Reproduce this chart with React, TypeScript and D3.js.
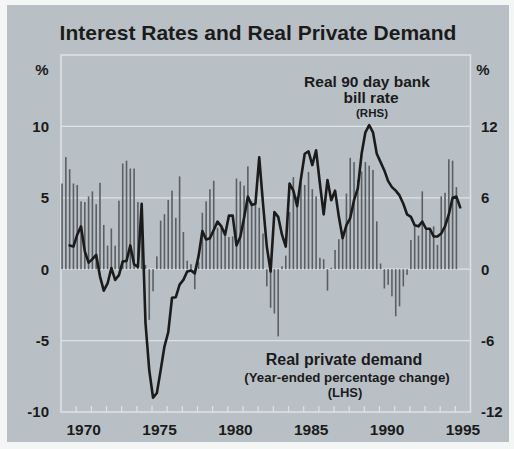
import * as d3 from "d3";

// Real private demand, year-ended % change (LHS), quarterly from 1969 Q1
const demandStart = 1969;
const demand = [
  6.0, 7.85, 7.0, 6.0, 5.9, 4.75, 4.7, 5.1, 5.45, 4.55,
  6.05, 3.1, 1.65, 2.85, 1.65, 4.8, 7.4, 7.6, 7.05, 7.05,
  4.7, 4.6, 0.3, -3.55, -1.55, 0.9, 3.4, 3.85, 4.85, 5.5,
  3.6, 6.5, 2.6, 0.6, 0.35, -1.4, 0.5, 3.95, 4.75, 5.6,
  6.2, 2.9, 2.9, 2.5, 2.25, 2.3, 6.35, 6.15, 5.85, 7.2,
  4.75, 4.5, 4.3, 2.5, -1.2, -2.7, -3.1, -4.7, 0.2, 0.95,
  4.0, 6.45, 5.1, 6.05, 5.9, 6.8, 5.6, 5.1, 0.8, 0.7,
  -1.5, 0.1, 1.35, 2.1, 2.65, 5.3, 7.8, 7.5, 6.25, 6.85,
  7.5, 7.25, 6.95, 3.35, 0.4, -1.35, -1.1, -1.9, -3.3, -2.6,
  -1.2, -0.4, 2.05, 3.0, 2.35, 5.45, 2.75, 2.85, 3.0, 1.7,
  5.1, 5.35, 7.7, 7.6, 5.75,
];

// Real 90 day bank bill rate (RHS), quarterly from 1969 Q3
const rateStart = 1969.5;
const rate = [
  2.0, 1.9, 2.9, 3.6, 1.5, 0.55, 0.85, 1.2, -0.6, -1.8,
  -1.2, 0.1, -0.9, -0.5, 0.65, 0.7, 2.0, 0.4, 0.2, 5.5,
  -4.5, -8.5, -10.8, -10.4, -8.5, -6.5, -5.3, -2.4, -2.35, -1.3,
  -0.9, -0.2, -0.1, -0.35, 1.1, 3.2, 2.5, 2.6, 3.3, 4.0,
  3.6, 2.9, 4.5, 4.5, 2.0, 2.7, 4.3, 6.1, 5.4, 5.5,
  9.4, 5.5, 1.9, -0.2, 4.8, 4.4, 2.9, 1.9, 7.2, 6.6,
  5.3, 7.6, 9.7, 9.9, 8.75, 10.0, 7.2, 4.6, 7.5, 5.8,
  6.6, 4.4, 2.6, 3.7, 4.3, 5.8, 6.8, 9.7, 11.5, 12.1,
  11.5, 9.7, 9.0, 8.3, 7.4, 6.9, 6.6, 6.2, 5.5, 4.6,
  4.4, 3.7, 3.6, 4.0, 3.4, 3.4, 2.75, 2.75, 3.0, 3.6,
  4.6, 6.0, 6.1, 5.2,
];

const yearLabels = [1970, 1975, 1980, 1985, 1990, 1995];
const yearTicks = d3.range(1970, 1996);
const lhsTicks = [-10, -5, 0, 5, 10];
const rhsTicks = [-12, -6, 0, 6, 12];
const gridValues = [-5, 0, 5, 10];

const W = 514;
const H = 449;
const plot = { left: 61, right: 470.5, top: 55, bottom: 412 };
const font = "'Liberation Sans', Arial, Helvetica, sans-serif";

export default function App() {
  const x = d3.scaleLinear().domain([1969, 1996]).range([plot.left, plot.right]);
  const yL = d3.scaleLinear().domain([-10, 15]).range([plot.bottom, plot.top]);
  const yR = d3.scaleLinear().domain([-12, 18]).range([plot.bottom, plot.top]);

  const offset = 0.07; // quarter marks sit just after the quarter start
  const bars = demand.map((v, i) => ({ t: demandStart + i * 0.25 + offset, v }));
  const pts = rate.map((v, i) => ({ t: rateStart + i * 0.25 + offset, v }));

  const line = d3
    .line<{ t: number; v: number }>()
    .x((d) => x(d.t))
    .y((d) => yR(d.v));

  const frame = "#dde2e5";
  const ink = "#1b1b1b";

  return (
    <svg
      width={W}
      height={H}
      style={{ position: "absolute", left: 0, top: 0, display: "block" }}
      fontFamily={font}
      fontWeight="bold"
    >
      <rect x={0} y={0} width={W} height={H} fill="#f4f5f5" />
      <rect x={7} y={5} width={502} height={437} fill="#b9c0c5" />

      {/* title */}
      <text x={258} y={40} textAnchor="middle" fontSize={21} fill={ink}>
        Interest Rates and Real Private Demand
      </text>

      {/* % units */}
      <text x={42} y={75} textAnchor="middle" fontSize={15} fill={ink}>%</text>
      <text x={483} y={75} textAnchor="middle" fontSize={15} fill={ink}>%</text>

      {/* grid lines */}
      {gridValues.map((g) => (
        <line
          key={g}
          x1={plot.left}
          x2={plot.right}
          y1={yL(g)}
          y2={yL(g)}
          stroke={frame}
          strokeWidth={1.3}
        />
      ))}

      {/* frame */}
      <rect
        x={plot.left}
        y={plot.top}
        width={plot.right - plot.left}
        height={plot.bottom - plot.top}
        fill="none"
        stroke={frame}
        strokeWidth={1.5}
      />

      {/* year ticks */}
      {yearTicks.map((t) => (
        <line
          key={t}
          x1={x(t)}
          x2={x(t)}
          y1={plot.bottom}
          y2={plot.bottom - 6}
          stroke={frame}
          strokeWidth={1.2}
        />
      ))}

      {/* demand bars */}
      {bars.map((d, i) => (
        <rect
          key={i}
          x={x(d.t) - 0.8}
          y={Math.min(yL(d.v), yL(0))}
          width={1.6}
          height={Math.abs(yL(d.v) - yL(0))}
          fill="#5a5f64"
        />
      ))}

      {/* bill rate line */}
      <path
        d={line(pts) ?? ""}
        fill="none"
        stroke={ink}
        strokeWidth={2.6}
        strokeLinejoin="round"
        strokeLinecap="round"
      />

      {/* left axis labels */}
      {lhsTicks.map((t) => (
        <text key={t} x={49} y={yL(t)} dy="0.36em" textAnchor="end" fontSize={15} fill={ink}>
          {t}
        </text>
      ))}

      {/* right axis labels */}
      {rhsTicks.map((t) => (
        <text key={t} x={481} y={yR(t)} dy="0.36em" textAnchor="start" fontSize={15} fill={ink}>
          {t}
        </text>
      ))}

      {/* year labels */}
      {yearLabels.map((t) => (
        <text key={t} x={x(t + 0.5)} y={435} textAnchor="middle" fontSize={15.5} fill={ink}>
          {t}
        </text>
      ))}

      {/* annotations */}
      <text x={367} y={87} textAnchor="middle" fontSize={15.5} fill={ink}>Real 90 day bank</text>
      <text x={371} y={103} textAnchor="middle" fontSize={15.5} fill={ink}>bill rate</text>
      <text x={372} y={117} textAnchor="middle" fontSize={11.5} fill={ink}>(RHS)</text>

      <text x={344} y={365} textAnchor="middle" fontSize={16} fill={ink}>Real private demand</text>
      <text x={347} y={382} textAnchor="middle" fontSize={13.3} fill={ink}>
        (Year-ended percentage change)
      </text>
      <text x={345} y={397} textAnchor="middle" fontSize={13} fill={ink}>(LHS)</text>
    </svg>
  );
}
